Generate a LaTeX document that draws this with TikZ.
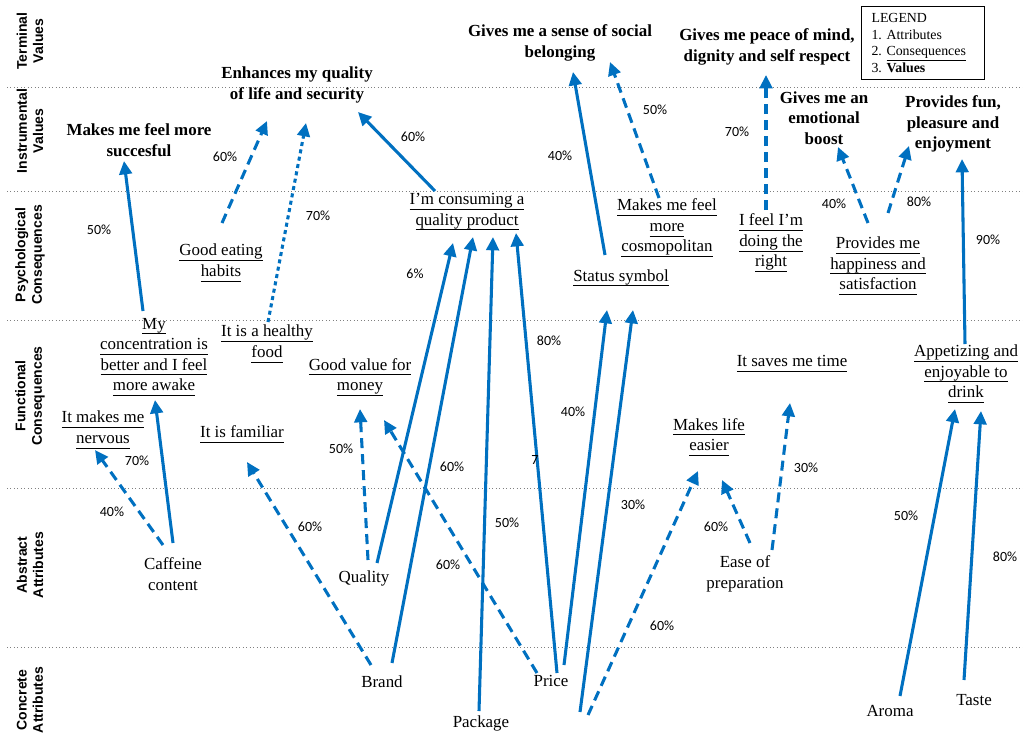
\documentclass[tikz,border=0pt]{standalone}
\usepackage{fontspec}
\setmainfont{Liberation Serif}
\setsansfont{Liberation Sans}
\newfontfamily\pctfont{Carlito}
\usetikzlibrary{arrows.meta}
\definecolor{ladderblue}{HTML}{0070C0}
\newcommand{\ulin}[1]{\underline{\raisebox{0pt}[\height][2pt]{#1}}}
\frenchspacing

\begin{document}
\begin{tikzpicture}[x=0.75pt,y=-0.75pt,
    sep/.style={draw=gray, dotted, line width=0.6pt},
    rowlab/.style={rotate=90, align=center, inner sep=0pt, font=\sffamily\bfseries\fontsize{10.5}{12.2}\selectfont},
    val/.style={align=center, inner sep=0pt, font=\bfseries\fontsize{12.7}{15.4}\selectfont},
    cons/.style={align=center, inner sep=0pt, font=\fontsize{12.7}{15.4}\selectfont},
    attr/.style={align=center, inner sep=0pt, font=\fontsize{12.7}{15.4}\selectfont},
    pct/.style={inner sep=0pt, font=\pctfont\fontsize{10.5}{12}\selectfont},
    link/.style={draw=ladderblue, line width=2.3pt, -{Triangle[length=10pt,width=9.5pt]}},
    dashlink/.style={link, dash pattern=on 7.5pt off 4.5pt},
    dotlink/.style={link, dash pattern=on 3pt off 2.6pt}]
    
		\useasboundingbox (0,0) rectangle (1023,735);
		
		% levels
		\foreach \y in {87,191,320,488,647}
			\draw [sep] (7,\y) -- (1023,\y);
		
		\node [rowlab] (tv) at (30,41) {Terminal\\Values};
		\node [rowlab] (iv) at (30,131) {Instrumental\\Values};
		\node [rowlab] (pc) at (30,255) {Psychological\\Consequences};
		\node [rowlab] (fc) at (30,396) {Functional\\Consequences};
		\node [rowlab] (aa) at (30,565) {Abstract\\Attributes};
		\node [rowlab] (ca) at (30,700) {Concrete\\Attributes};
		
		\node [draw, line width=0.8pt, anchor=north west, inner xsep=7.5pt, inner ysep=0pt, text width=77pt, minimum height=54.75pt, align=left, font=\fontsize{10.4}{12.7}\selectfont] (legend) at (861,6) {LEGEND\\1. Attributes\\2. \ulin{Consequences}\\3. \textbf{Values}};
		
		% values
		\node [val] (belong) at (560,43) {Gives me a sense of social\\belonging};
		\node [val] (peace) at (767,47) {Gives me peace of mind,\\dignity and self respect};
		\node [val] (enhance) at (297,85) {Enhances my quality\\of life and security};
		\node [val] (success) at (139,140) {Makes me feel more\\succesful};
		\node [val] (boost) at (824,118) {Gives me an\\emotional\\boost};
		\node [val] (fun) at (953,124) {Provides fun,\\pleasure and\\enjoyment};
		
		% consequences
		\node [cons] (consum) at (467,212) {\ulin{I'm consuming a}\\\ulin{quality product}};
		\node [cons] (cosmo) at (667,228) {\ulin{Makes me feel}\\\ulin{more}\\\ulin{cosmopolitan}};
		\node [cons] (eating) at (221,263) {\ulin{Good eating}\\\ulin{habits}};
		\node [cons] (right) at (771,243) {\ulin{I feel I'm}\\\ulin{doing the}\\\ulin{right}};
		\node [cons] (status) at (621,278) {\ulin{Status symbol}};
		\node [cons] (happy) at (878,266) {\ulin{Provides me}\\\ulin{happiness and}\\\ulin{satisfaction}};
		\node [cons] (conc) at (154,357) {\ulin{My}\\\ulin{concentration is}\\\ulin{better and I feel}\\\ulin{more awake}};
		\node [cons] (healthy) at (267,344) {\ulin{It is a healthy}\\\ulin{food}};
		\node [cons] (value) at (360,377) {\ulin{Good value for}\\\ulin{money}};
		\node [cons] (time) at (792,364) {\ulin{It saves me time}};
		\node [cons] (appet) at (966,374) {\ulin{Appetizing and}\\\ulin{enjoyable to}\\\ulin{drink}};
		\node [cons] (nervous) at (103,430) {\ulin{It makes me}\\\ulin{nervous}};
		\node [cons] (famil) at (242,434) {\ulin{It is familiar}};
		\node [cons] (easier) at (709,437) {\ulin{Makes life}\\\ulin{easier}};
		
		% attributes
		\node [attr] (caff) at (173,574) {Caffeine\\content};
		\node [attr] (quality) at (364,578) {Quality};
		\node [attr] (ease) at (745,574) {Ease of\\preparation};
		\node [attr] (brand) at (382,682) {Brand};
		\node [attr] (price) at (551,681) {Price};
		\node [attr] (package) at (481,723) {Package};
		\node [attr] (aroma) at (890,711) {Aroma};
		\node [attr] (taste) at (974,700) {Taste};
		
		% ladders
		\draw [link] ([shift={(0,-31)}]caff.center) -- ([shift={(1,43)}]conc.center);
		\draw [dashlink] ([shift={(-10,-29)}]caff.center) -- ([shift={(-8,20)}]nervous.center);
		\draw [link] ([shift={(-11,-46)}]conc.center) -- ([shift={(-15,21)}]success.center);
		\draw [dashlink] ([shift={(1,-40)}]eating.center) -- ([shift={(-30,36)}]enhance.center);
		\draw [dotlink] ([shift={(1,-22)}]healthy.center) -- ([shift={(9,38)}]enhance.center);
		\draw [link] ([shift={(-32,-21)}]consum.center) -- ([shift={(61,27)}]enhance.center);
		\draw [link] ([shift={(-16,-23)}]status.center) -- ([shift={(13,29)}]belong.center);
		\draw [dashlink] ([shift={(-8,-30)}]cosmo.center) -- ([shift={(50,19)}]belong.center);
		\draw [dashlink] ([shift={(-5,-33)}]right.center) -- ([shift={(-1,28)}]peace.center);
		\draw [dashlink] ([shift={(-10,-43)}]happy.center) -- ([shift={(14,29)}]boost.center);
		\draw [dashlink] ([shift={(10,-53)}]happy.center) -- ([shift={(-44,22)}]fun.center);
		\draw [link] ([shift={(-1,-30)}]appet.center) -- ([shift={(9,35)}]fun.center);
		\draw [link] ([shift={(10,-15)}]aroma.center) -- ([shift={(-11,35)}]appet.center);
		\draw [link] ([shift={(-10,-20)}]taste.center) -- ([shift={(15,37)}]appet.center);
		\draw [dashlink] ([shift={(27,-24)}]ease.center) -- ([shift={(-2,39)}]time.center);
		\draw [dashlink] ([shift={(5,-31)}]ease.center) -- ([shift={(13,43)}]easier.center);
		\draw [dashlink] ([shift={(37,34)}]price.center) -- ([shift={(-11,34)}]easier.center);
		\draw [link] ([shift={(13,-16)}]price.center) -- ([shift={(-14,32)}]status.center);
		\draw [link] ([shift={(29,31)}]price.center) -- ([shift={(12,32)}]status.center);
		\draw [link] ([shift={(13,-15)}]quality.center) -- ([shift={(-14,31)}]consum.center);
		\draw [link] ([shift={(10,-19)}]brand.center) -- ([shift={(6,25)}]consum.center);
		\draw [link] ([shift={(-2,-12)}]package.center) -- ([shift={(26,25)}]consum.center);
		\draw [link] ([shift={(6,-8)}]price.center) -- ([shift={(49,21)}]consum.center);
		\draw [dashlink] ([shift={(4,-18)}]quality.center) -- ([shift={(0,32)}]value.center);
		\draw [dashlink] ([shift={(-14,-8)}]price.center) -- ([shift={(24,43)}]value.center);
		\draw [dashlink] ([shift={(-11,-17)}]brand.center) -- ([shift={(5,28)}]famil.center);
		
		% percentages
		\foreach \x/\y/\p [count=\i] in {99/230/50,225/157/60,318/216/70,413/137/60,560/156/40,655/110/50,737/132/70,834/204/40,919/202/80,988/240/90,415/274/6,549/341/80,137/461/70,112/512/40,310/527/60,341/449/50,452/467/60,507/523/50,448/565/60,573/412/40,633/505/30,662/626/60,716/527/60,806/468/30,906/516/50,1005/557/80}
			\node [pct] (pct\i) at (\x,\y) {\p\%};
		\node [pct] (seven) at (535,460) {7};
		
\end{tikzpicture}
\end{document}
